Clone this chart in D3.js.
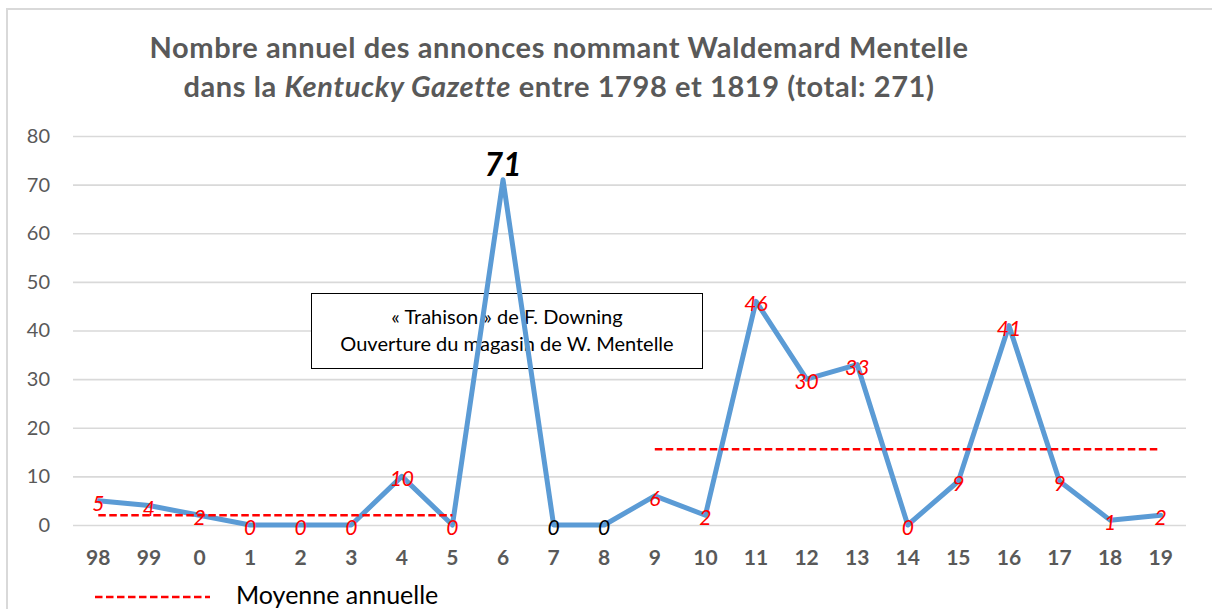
<!DOCTYPE html>
<html lang="fr">
<head>
<meta charset="utf-8">
<script src="https://cdn.jsdelivr.net/npm/d3@7"></script>
<style>
  html, body { margin: 0; padding: 0; background: #fff; }
  svg { display: block; font-family: Lato, "Open Sans", sans-serif; }
</style>
</head>
<body>
<svg id="chart" width="1212" height="609"></svg>
<script>
// Years (last two digits) and yearly number of advertisements
const years = ["98","99","0","1","2","3","4","5","6","7","8","9","10","11","12","13","14","15","16","17","18","19"];
const counts = [5,4,2,0,0,0,10,0,71,0,0,6,2,46,30,33,0,9,41,9,1,2];

// Yearly averages over the two periods
const averageFrom = ["98", "9"];
const averageTo = ["5", "19"];
const averageValues = [2, 15.6];

const yTicks = [0,10,20,30,40,50,60,70,80];

const titleLine1 = "Nombre annuel des annonces nommant Waldemard Mentelle";
const noteLines = ["« Trahison » de F. Downing", "Ouverture du magasin de W. Mentelle"];
const legendLabel = "Moyenne annuelle";

const svg = d3.select("#chart");
const plotLeft = 73, plotRight = 1186, plotTop = 136, plotBottom = 525;

const x = d3.scaleBand().domain(years).range([plotLeft, plotRight]).padding(0);
const cx = d => x(d) + x.bandwidth() / 2;
const y = d3.scaleLinear().domain([0, 80]).range([plotBottom, plotTop]);

// Outer frame
svg.append("path")
  .attr("d", `M7,609 V9 H1212`)
  .attr("fill", "none").attr("stroke", "#d9d9d9").attr("stroke-width", 2);

// Title
const title = svg.append("text")
  .attr("text-anchor", "middle")
  .attr("fill", "#595959").attr("font-weight", "bold").attr("font-size", 29)
  .attr("letter-spacing", 0.6);
title.append("tspan").attr("x", 559).attr("y", 58).text(titleLine1);
const t2 = title.append("tspan").attr("x", 559).attr("y", 97);
t2.append("tspan").text("dans la ");
t2.append("tspan").attr("font-style", "italic").text("Kentucky Gazette");
t2.append("tspan").text(" entre 1798 et 1819 (total: " + d3.sum(counts) + ")");

// Y axis with gridlines
const yAxis = svg.append("g")
  .attr("transform", `translate(${plotLeft},0)`)
  .call(d3.axisLeft(y).tickValues(yTicks).tickSize(-(plotRight - plotLeft)).tickPadding(23));
yAxis.select(".domain").remove();
yAxis.selectAll(".tick line").attr("stroke", "#d9d9d9").attr("stroke-width", 1.6);
yAxis.selectAll(".tick text")
  .attr("fill", "#595959").attr("font-size", 20).attr("font-family", "Lato, sans-serif");

// X axis labels
const xAxis = svg.append("g")
  .attr("transform", `translate(0,${plotBottom})`)
  .call(d3.axisBottom(x).tickSize(0).tickPadding(25));
xAxis.select(".domain").remove();
xAxis.selectAll(".tick text")
  .attr("fill", "#595959").attr("font-size", 21).attr("font-weight", "bold")
  .attr("font-family", "Lato, sans-serif");

// Annotation box
const box = svg.append("g");
box.append("rect")
  .attr("x", 311.5).attr("y", 293.5).attr("width", 391).attr("height", 75)
  .attr("fill", "#fff").attr("stroke", "#000").attr("stroke-width", 1);
box.selectAll("text").data(noteLines).join("text")
  .attr("x", 507).attr("y", (d, i) => 324 + i * 27)
  .attr("text-anchor", "middle").attr("font-size", 20).attr("fill", "#000")
  .text(d => d);

// Series line
const points = years.map((yr, i) => ({ year: yr, value: counts[i] }));
svg.append("path")
  .datum(points)
  .attr("fill", "none").attr("stroke", "#5b9bd5").attr("stroke-width", 5)
  .attr("stroke-linejoin", "round").attr("stroke-linecap", "round")
  .attr("d", d3.line().x(d => cx(d.year)).y(d => y(d.value)));

// Average lines
svg.selectAll("line.avg").data(averageValues).join("line")
  .attr("class", "avg")
  .attr("x1", (d, i) => cx(averageFrom[i]))
  .attr("x2", (d, i) => cx(averageTo[i]))
  .attr("y1", d => y(d)).attr("y2", d => y(d))
  .attr("stroke", "#ff0000").attr("stroke-width", 2.5).attr("stroke-dasharray", "7.5,3.5");

// Value labels
const peak = d3.max(counts);
const neutral = new Set(["7", "8"]);
svg.selectAll("text.val").data(points).join("text")
  .attr("class", "val")
  .attr("x", d => cx(d.year))
  .attr("y", d => d.value === peak ? y(d.value) - 4 : y(d.value) + 10)
  .attr("text-anchor", "middle")
  .attr("font-style", "italic")
  .attr("font-weight", d => d.value === peak ? "bold" : "normal")
  .attr("font-size", d => d.value === peak ? 32 : 21)
  .attr("fill", d => (d.value === peak || neutral.has(d.year)) ? "#000" : "#ff0000")
  .text(d => d.value);

// Legend
svg.append("line")
  .attr("x1", 95).attr("x2", 210).attr("y1", 597).attr("y2", 597)
  .attr("stroke", "#ff0000").attr("stroke-width", 2.5).attr("stroke-dasharray", "7.5,3.5");
svg.append("text")
  .attr("x", 236).attr("y", 604).attr("font-size", 25).attr("fill", "#000")
  .text(legendLabel);
</script>
</body>
</html>
